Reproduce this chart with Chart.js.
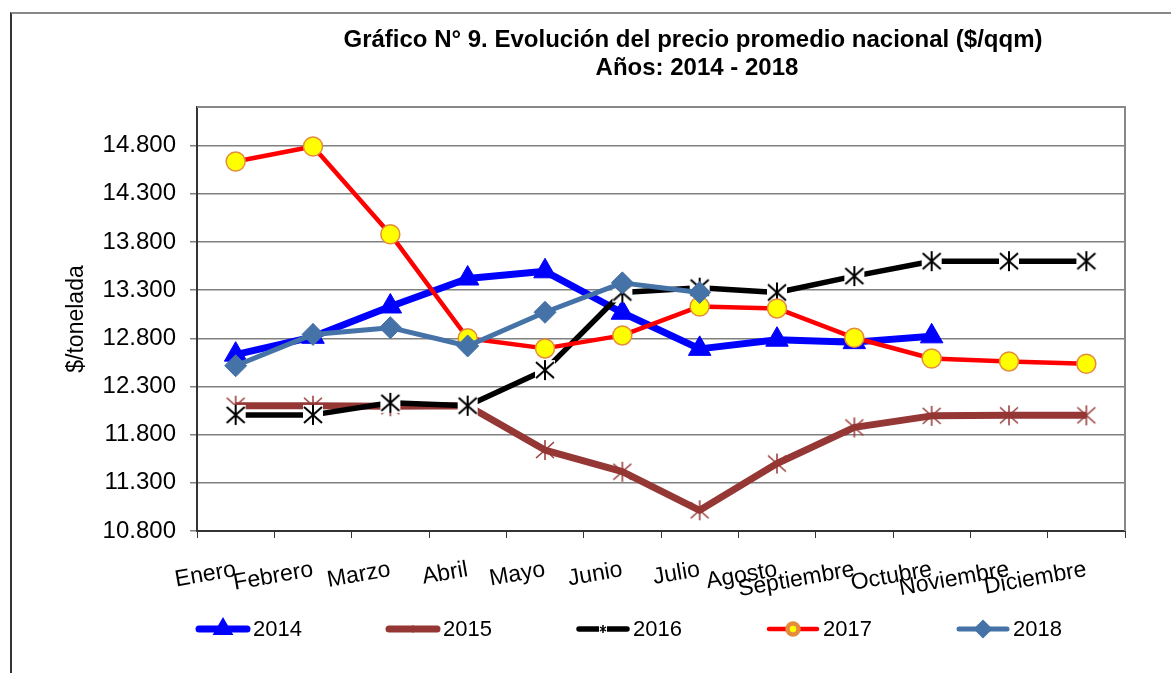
<!DOCTYPE html>
<html>
<head>
<meta charset="utf-8">
<script src="https://cdn.jsdelivr.net/npm/chart.js@4.4.1/dist/chart.umd.min.js"></script>
<style>
body { margin: 0; background: #fff; }
#wrap { position: relative; width: 1171px; height: 673px; overflow: hidden; }
#frame { position: absolute; left: 10px; top: 12px; width: 1200px; height: 700px; border-top: 2px solid #888; border-left: 2px solid #333; }
canvas { position: absolute; left: 0; top: 0; }
</style>
</head>
<body>
<div id="wrap">
  <div id="frame"></div>
  <canvas id="plot" width="1171" height="673"></canvas>
</div>
<script>
const months = ['Enero', 'Febrero', 'Marzo', 'Abril', 'Mayo', 'Junio', 'Julio', 'Agosto', 'Septiembre', 'Octubre', 'Noviembre', 'Diciembre']
const yTicks = [10800, 11300, 11800, 12300, 12800, 13300, 13800, 14300, 14800]

const p2014 = [12630, 12815, 13130, 13420, 13495, 13065, 12690, 12785, 12760, 12820, null, null]
const p2015 = [12100, 12100, 12095, 12100, 11640, 11415, 11015, 11500, 11875, 11995, 12000, 12000]
const p2016 = [12005, 12005, 12130, 12100, 12470, 13275, 13325, 13275, 13445, 13600, 13600, 13600]
const p2017 = [14635, 14790, 13880, 12800, 12695, 12830, 13130, 13110, 12805, 12590, 12560, 12535]
const p2018 = [12515, 12840, 12910, 12720, 13070, 13375, 13275, null, null, null, null, null]

const FONT = 'Arial, "Liberation Sans", sans-serif'

// asterisk marker like the excel one (x plus vertical bar)
function asterisk(size, color, lw, bg) {
    const c = document.createElement('canvas')
    c.width = size
    c.height = size
    const g = c.getContext('2d')
    if (bg) {
        g.fillStyle = '#fff'
        g.fillRect(1, 1, size - 2, size - 2)
    }
    g.strokeStyle = color
    g.lineWidth = lw
    const h = size / 2
    g.beginPath()
    g.moveTo(h, 1); g.lineTo(h, size - 1)
    g.moveTo(2, 3); g.lineTo(size - 2, size - 3)
    g.moveTo(size - 2, 3); g.lineTo(2, size - 3)
    g.stroke()
    return c
}

const star2015 = asterisk(22, '#953735', 1.5, false)
const star2016 = asterisk(22, '#000', 2, true)
const star2015s = asterisk(10, '#953735', 1, false)
const star2016s = asterisk(10, '#000', 1.5, true)

function fmt(v) {
    return String(v).replace(/\B(?=(\d{3})+$)/g, '.')
}

const titlePlugin = {
    id: 'titleLines',
    afterDraw(chart) {
        const ctx = chart.ctx
        ctx.save()
        ctx.fillStyle = '#000'
        ctx.font = 'bold 24px ' + FONT
        ctx.textAlign = 'center'
        ctx.textBaseline = 'middle'
        ctx.fillText('Gráfico N° 9. Evolución del precio promedio nacional ($/qqm)', 693, 40)
        ctx.fillText('Años: 2014 - 2018', 697, 68)
        ctx.restore()
    }
}

const framePlugin = {
    id: 'plotFrame',
    afterDatasetsDraw(chart) {
        const a = chart.chartArea
        const ctx = chart.ctx
        ctx.save()
        ctx.strokeStyle = '#888'
        ctx.lineWidth = 2
        ctx.beginPath()
        ctx.moveTo(a.left, a.top)
        ctx.lineTo(a.right, a.top)
        ctx.lineTo(a.right, a.bottom)
        ctx.stroke()
        ctx.restore()
    }
}

const legendPlugin = {
    id: 'lineLegend',
    afterDraw(chart) {
        const ctx = chart.ctx
        chart.data.datasets.forEach((ds, i) => {
            const x0 = 196 + i * 190
            const y = 629
            ctx.save()
            ctx.strokeStyle = ds.borderColor
            ctx.lineWidth = ds.borderWidth
            ctx.lineCap = 'round'
            ctx.beginPath()
            ctx.moveTo(x0 + 3, y)
            ctx.lineTo(x0 + 51, y)
            ctx.stroke()
            ctx.fillStyle = ds.pointBackgroundColor
            ctx.strokeStyle = ds.pointBorderColor
            Chart.helpers.drawPoint(ctx, {
                pointStyle: ds.legendStyle,
                radius: ds.legendRadius,
                borderWidth: 1,
                rotation: 0
            }, x0 + 27, y)
            ctx.fillStyle = '#000'
            ctx.font = '22px ' + FONT
            ctx.textAlign = 'left'
            ctx.textBaseline = 'middle'
            ctx.fillText(ds.label, x0 + 57, y + 1)
            ctx.restore()
        })
    }
}

const data = {
    labels: months,
    datasets: [{
        label: '2014',
        data: p2014,
        borderColor: '#0000FF',
        borderWidth: 7,
        pointStyle: 'triangle',
        pointRadius: 13,
        pointBackgroundColor: '#0000FF',
        pointBorderColor: '#0000FF',
        pointBorderWidth: 1,
        legendStyle: 'triangle',
        legendRadius: 5,
        order: 5
    }, {
        label: '2015',
        data: p2015,
        borderColor: '#953735',
        borderWidth: 7,
        pointStyle: star2015,
        pointBackgroundColor: '#953735',
        pointBorderColor: '#953735',
        legendStyle: star2015s,
        legendRadius: 5,
        order: 4
    }, {
        label: '2016',
        data: p2016,
        borderColor: '#000',
        borderWidth: 5.5,
        pointStyle: star2016,
        pointBackgroundColor: '#000',
        pointBorderColor: '#000',
        legendStyle: star2016s,
        legendRadius: 5,
        order: 3
    }, {
        label: '2017',
        data: p2017,
        borderColor: '#FF0000',
        borderWidth: 4.5,
        pointStyle: 'circle',
        pointRadius: 9.5,
        pointBackgroundColor: '#FFFF00',
        pointBorderColor: '#E48C3C',
        pointBorderWidth: 1.5,
        legendStyle: 'circle',
        legendRadius: 5.5,
        order: 2
    }, {
        label: '2018',
        data: p2018,
        borderColor: '#4572A7',
        borderWidth: 5,
        pointStyle: 'rectRot',
        pointRadius: 11,
        pointBackgroundColor: '#4572A7',
        pointBorderColor: '#4572A7',
        pointBorderWidth: 1,
        legendStyle: 'rectRot',
        legendRadius: 6,
        order: 1
    }]
}

const config = {
    type: 'line',
    data: data,
    options: {
        responsive: false,
        animation: false,
        devicePixelRatio: 1,
        layout: { padding: { left: 0, right: 46, top: 107, bottom: 0 } },
        elements: { line: { tension: 0, borderJoinStyle: 'round' } },
        plugins: {
            legend: { display: false },
            title: { display: false },
            tooltip: { enabled: false }
        },
        scales: {
            x: {
                offset: true,
                grid: { offset: true, drawOnChartArea: false, tickLength: 7, color: '#333' },
                border: { color: '#333', width: 2 },
                ticks: {
                    autoSkip: false,
                    minRotation: 10,
                    maxRotation: 10,
                    padding: 18,
                    color: '#000',
                    font: { size: 23, family: FONT }
                },
                afterFit: s => { s.height = 673 - 531 }
            },
            y: {
                min: 10800,
                max: 15200,
                afterBuildTicks: s => { s.ticks = yTicks.map(v => ({ value: v })) },
                grid: { color: '#808080', lineWidth: 1.5, tickLength: 7 },
                border: { color: '#333', width: 2 },
                ticks: {
                    padding: 14,
                    color: '#000',
                    font: { size: 24, family: FONT },
                    callback: v => fmt(v)
                },
                title: {
                    display: true,
                    text: '$/tonelada',
                    color: '#000',
                    font: { size: 23, family: FONT },
                    padding: { top: 63, bottom: 0 }
                },
                afterFit: s => { s.width = 197 }
            }
        }
    },
    plugins: [framePlugin, titlePlugin, legendPlugin]
}

myChart = new Chart(document.getElementById('plot'), config)
</script>
</body>
</html>
